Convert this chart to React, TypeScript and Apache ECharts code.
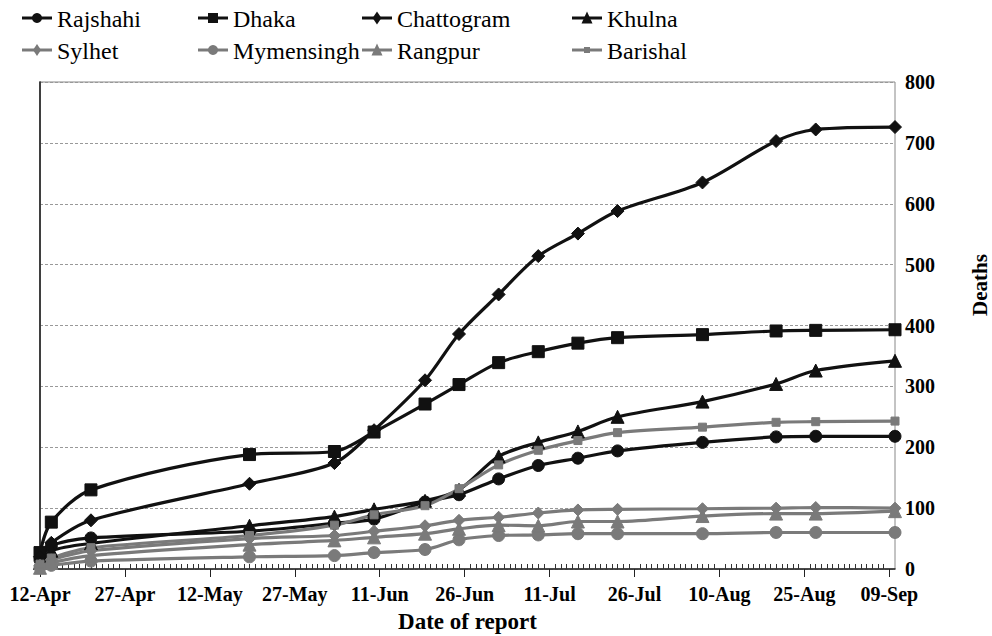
import React, { useEffect, useRef } from "react";
import * as echarts from "echarts";

const dates = [
  "2020-04-12", "2020-04-14", "2020-04-21", "2020-05-19", "2020-06-03", "2020-06-10",
  "2020-06-19", "2020-06-25", "2020-07-02", "2020-07-09", "2020-07-16", "2020-07-23",
  "2020-08-07", "2020-08-20", "2020-08-27", "2020-09-10",
];
const rajshahi = [15, 38, 51, 62, 75, 82, 110, 122, 148, 170, 182, 194, 208, 217, 218, 218];
const dhaka = [27, 77, 130, 188, 193, 225, 271, 303, 339, 357, 371, 380, 385, 391, 392, 393];
const chattogram = [20, 43, 80, 140, 174, 228, 310, 386, 451, 514, 551, 588, 635, 703, 722, 726];
const khulna = [10, 30, 42, 71, 86, 98, 112, 130, 185, 208, 226, 250, 275, 304, 326, 342];
const sylhet = [6, 15, 30, 50, 55, 62, 71, 80, 85, 92, 97, 98, 99, 100, 101, 100];
const mymensingh = [3, 6, 13, 20, 22, 27, 32, 48, 55, 56, 58, 58, 58, 60, 60, 60];
const rangpur = [2, 10, 22, 40, 47, 52, 58, 66, 72, 71, 78, 78, 87, 91, 91, 95];
const barishal = [8, 18, 35, 55, 72, 89, 104, 132, 171, 195, 211, 224, 233, 241, 242, 243];

const startDate = "2020-04-12";
const endDate = "2020-09-10";
const yTicks = [0, 100, 200, 300, 400, 500, 600, 700, 800];
const monthNames = ["Jan", "Feb", "Mar", "Apr", "May", "Jun", "Jul", "Aug", "Sep", "Oct", "Nov", "Dec"];

const DAY = 86400000;
const base = Date.parse(startDate + "T00:00:00Z");
const dayOf = (d: string) => Math.round((Date.parse(d + "T00:00:00Z") - base) / DAY);
const fmt = (v: number) => {
  const d = new Date(base + v * DAY);
  const dd = String(d.getUTCDate()).padStart(2, "0");
  return dd + "-" + monthNames[d.getUTCMonth()];
};

const BLACK = "#111111";
const GRAY = "#7a7a7a";
const FONT = "Liberation Serif";
const SERIF_STACK = "'Liberation Serif', 'DejaVu Serif', 'Times New Roman', serif";

type S = { name: string; values: number[]; color: string; symbol: string; size: number };
const seriesDefs: S[] = [
  { name: "Rajshahi", values: rajshahi, color: BLACK, symbol: "circle", size: 12 },
  { name: "Dhaka", values: dhaka, color: BLACK, symbol: "rect", size: 12 },
  { name: "Chattogram", values: chattogram, color: BLACK, symbol: "diamond", size: 13 },
  { name: "Khulna", values: khulna, color: BLACK, symbol: "triangle", size: 13 },
  { name: "Sylhet", values: sylhet, color: GRAY, symbol: "diamond", size: 12 },
  { name: "Mymensingh", values: mymensingh, color: GRAY, symbol: "circle", size: 12 },
  { name: "Rangpur", values: rangpur, color: GRAY, symbol: "triangle", size: 13 },
  { name: "Barishal", values: barishal, color: GRAY, symbol: "rect", size: 8 },
];

function legendMarker(s: S, cx: number, cy: number) {
  const r = s.size / 2 - 1;
  const style = { fill: s.color, stroke: s.color, lineWidth: 0 };
  if (s.symbol === "circle") return { type: "circle", shape: { cx, cy, r }, style };
  if (s.symbol === "rect") return { type: "rect", shape: { x: cx - r, y: cy - r, width: 2 * r, height: 2 * r }, style };
  if (s.symbol === "diamond")
    return { type: "polygon", shape: { points: [[cx, cy - r - 1], [cx + r * 0.8, cy], [cx, cy + r + 1], [cx - r * 0.8, cy]] }, style };
  return { type: "polygon", shape: { points: [[cx, cy - r - 1], [cx + r, cy + r], [cx - r, cy + r]] }, style };
}

export default function App() {
  const ref = useRef<HTMLDivElement>(null);
  useEffect(() => {
    if (!ref.current) return;
    const chart = echarts.init(ref.current, undefined, { renderer: "svg" });
    const xs = dates.map(dayOf);
    const maxDay = dayOf(endDate);
    const colX = [22, 198, 362, 572];
    const rowY = [18, 50];
    const legendGraphics = seriesDefs.map((s, i) => {
      const x0 = colX[i % 4];
      const cy = rowY[Math.floor(i / 4)];
      return {
        type: "group",
        children: [
          { type: "line", shape: { x1: x0, y1: cy, x2: x0 + 30, y2: cy }, style: { stroke: s.color, lineWidth: 3 } },
          legendMarker(s, x0 + 15, cy),
          {
            type: "text",
            x: x0 + 35,
            y: cy + 1,
            style: {
              text: s.name,
              font: "normal 24px " + SERIF_STACK,
              fontFamily: SERIF_STACK,
              fontSize: 24,
              fontWeight: "normal",
              fill: "#000",
              align: "left",
              verticalAlign: "middle",
            },
          },
        ],
      };
    });
    chart.setOption({
      animation: false,
      backgroundColor: "#fff",
      textStyle: { fontFamily: FONT },
      grid: {
        left: 40,
        right: 97,
        top: 82,
        bottom: 67,
        containLabel: false,
        outerBoundsMode: "none",
        show: true,
        borderColor: "#888",
        borderWidth: 1,
      },
      xAxis: [
        {
          type: "value",
          min: 0,
          max: maxDay,
          interval: 15,
          name: "Date of report",
          nameLocation: "middle",
          nameGap: 41,
          nameTextStyle: { fontFamily: FONT, fontSize: 23, fontWeight: "bold", color: "#000" },
          axisLine: { show: true, lineStyle: { color: "#222", width: 1.5 } },
          axisTick: { show: true, inside: false, length: 8, lineStyle: { color: "#222" } },
          axisLabel: {
            fontFamily: FONT,
            fontSize: 20,
            fontWeight: "bold",
            color: "#000",
            margin: 15,
            showMaxLabel: false,
            formatter: (v: number) => (v % 15 === 0 ? fmt(v) : ""),
          },
          splitLine: { show: false },
        },
        {
          type: "value",
          min: 0,
          max: maxDay,
          interval: 15,
          position: "bottom",
          axisLine: { show: false },
          axisTick: { show: false, inside: true },
          minorTick: { show: true, splitNumber: 15, length: 5, lineStyle: { color: "#333" } },
          axisLabel: { show: false },
          splitLine: { show: false },
        },
      ],
      yAxis: [
        {
          type: "value",
          position: "right",
          min: 0,
          max: 800,
          interval: 100,
          axisLine: { show: true, lineStyle: { color: "#888", width: 1.5 } },
          axisTick: { show: false },
          axisLabel: {
            fontFamily: FONT,
            fontSize: 20,
            fontWeight: "bold",
            color: "#000",
            margin: 10,
            formatter: (v: number) => (yTicks.includes(v) ? String(v) : ""),
          },
          splitLine: { show: true, lineStyle: { color: "#999", type: [3, 2], width: 1 } },
        },
        {
          type: "value",
          position: "left",
          min: 0,
          max: 800,
          interval: 100,
          axisLine: { show: true, lineStyle: { color: "#222", width: 1.5 } },
          axisTick: { show: false },
          axisLabel: { show: false },
          splitLine: { show: false },
        },
      ],
      graphic: [
        ...legendGraphics,
        {
          type: "text",
          x: 980,
          y: 285,
          rotation: Math.PI / 2,
          style: {
            text: "Deaths",
            fontFamily: FONT,
            fontSize: 21,
            fontWeight: "bold",
            fill: "#000",
            align: "center",
            verticalAlign: "middle",
          },
        },
      ],
      series: seriesDefs.map((s) => ({
        name: s.name,
        type: "line",
        xAxisIndex: 0,
        yAxisIndex: 0,
        smooth: 0.3,
        symbol: s.symbol,
        symbolSize: s.size,
        showAllSymbol: true,
        data: xs.map((x, i) => [x, s.values[i]]),
        lineStyle: { color: s.color, width: 3.2 },
        itemStyle: { color: s.color, borderColor: s.color },
        emphasis: { disabled: true },
      })),
    });
    return () => chart.dispose();
  }, []);
  return <div ref={ref} style={{ width: 992, height: 636, position: "absolute", left: 0, top: 0 }} />;
}
